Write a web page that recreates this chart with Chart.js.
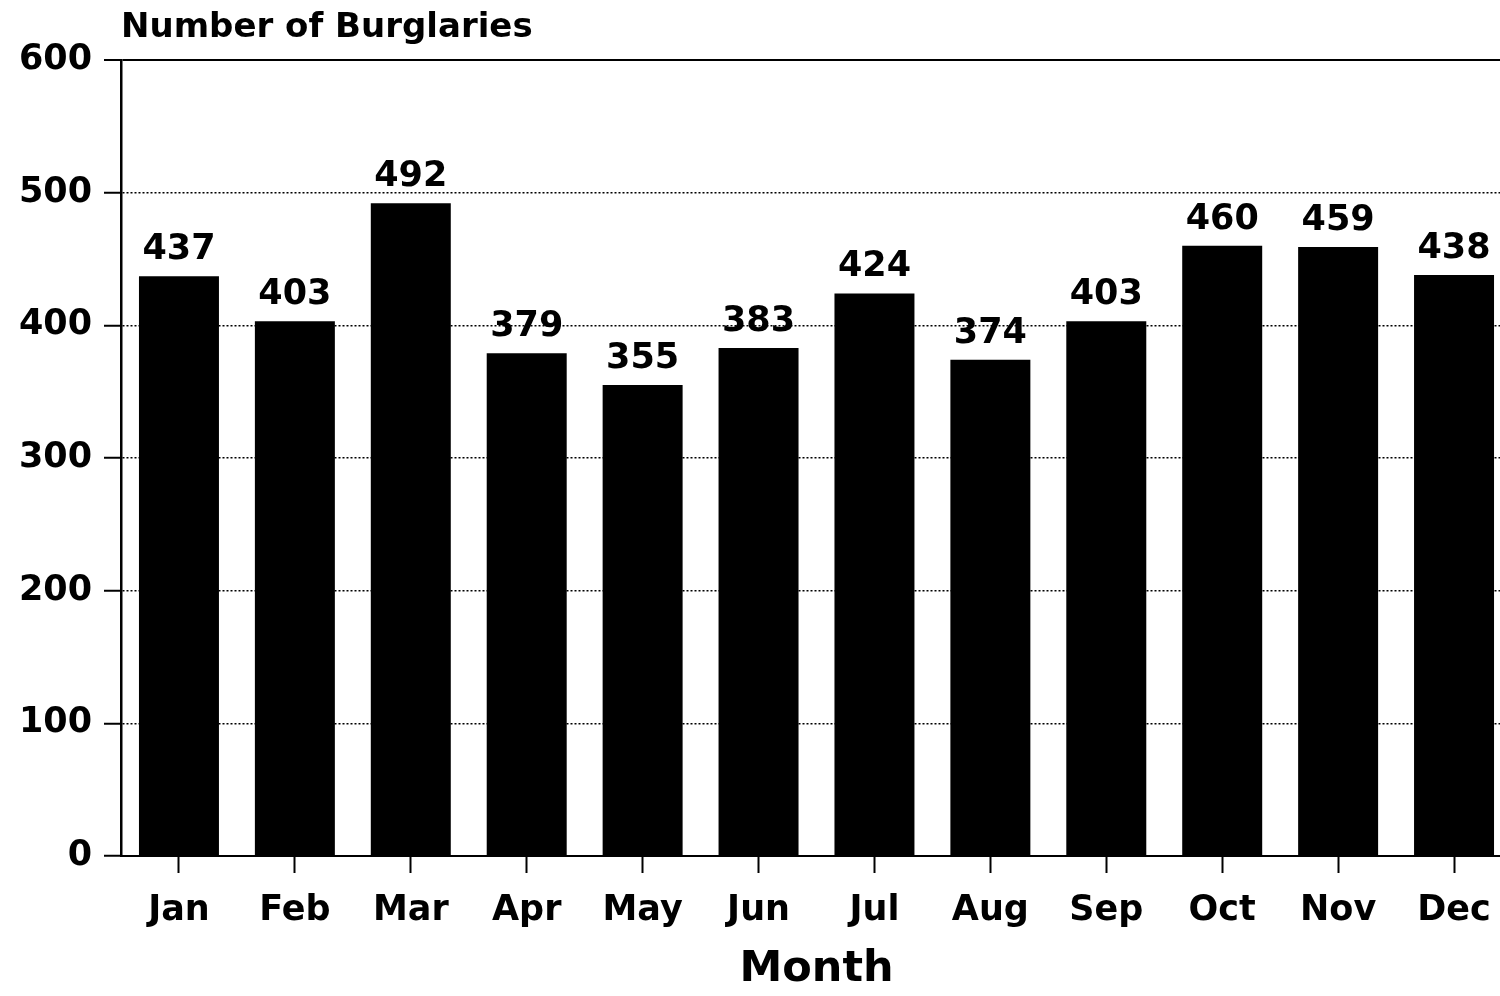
<!DOCTYPE html>
<html lang="en">
<head>
  <meta charset="UTF-8">
  <title>Number of Burglaries</title>
  <script src="https://cdn.jsdelivr.net/npm/chart.js"></script>
  <style>
    html, body {
      margin: 0;
      padding: 0;
      background: #fff;
      overflow: hidden;
    }
    .chart-container {
      position: relative;
      width: 1515px;
      height: 996px;
    }
  </style>
</head>
<body>
  <div class="chart-container">
    <canvas id="barChart"></canvas>
  </div>

  <script>
    // Data
    const months = ["Jan", "Feb", "Mar", "Apr", "May", "Jun", "Jul", "Aug", "Sep", "Oct", "Nov", "Dec"];
    const burglaries = [437, 403, 492, 379, 355, 383, 424, 374, 403, 460, 459, 438];
    const yTicks = [0, 100, 200, 300, 400, 500, 600];

    const FONT = "'DejaVu Sans', sans-serif";

    // Title above the y axis and value labels above each bar
    const labelsPlugin = {
      id: "labels",
      afterDatasetsDraw(chart) {
        const ctx = chart.ctx;
        ctx.save();
        ctx.fillStyle = "#000";
        ctx.font = "bold 35px " + FONT;
        ctx.textAlign = "center";
        ctx.textBaseline = "alphabetic";
        chart.getDatasetMeta(0).data.forEach((bar, i) => {
          ctx.fillText(String(burglaries[i]), bar.x, bar.y - 17);
        });
        ctx.textAlign = "left";
        ctx.font = "bold 34px " + FONT;
        ctx.fillText("Number of Burglaries", chart.chartArea.left, 37);
        ctx.restore();
      }
    };

    const ctx = document.getElementById("barChart").getContext("2d");

    new Chart(ctx, {
      type: "bar",
      data: {
        labels: months,
        datasets: [{
          label: "Number of Burglaries",
          data: burglaries,
          backgroundColor: "#000",
          borderWidth: 0,
          barPercentage: 0.69,
          categoryPercentage: 1.0
        }]
      },
      options: {
        responsive: true,
        maintainAspectRatio: false,
        animation: false,
        layout: {
          padding: { top: 60, right: 3, left: 0, bottom: 0 }
        },
        plugins: {
          legend: { display: false },
          tooltip: { enabled: false }
        },
        scales: {
          x: {
            grid: {
              display: true,
              drawOnChartArea: false,
              offset: false,
              color: "#000",
              tickLength: 17,
              tickWidth: 2,
              tickColor: "#000"
            },
            border: { color: "#000", width: 2 },
            ticks: {
              color: "#000",
              font: { family: FONT, size: 35, weight: "bold" },
              padding: 17,
              maxRotation: 0
            },
            title: {
              display: true,
              text: "Month",
              color: "#000",
              font: { family: FONT, size: 43, weight: "bold" },
              padding: { top: 0, bottom: 0 }
            },
            afterFit(scale) {
              scale.height = 140;
            }
          },
          y: {
            min: 0,
            max: 600,
            afterBuildTicks(scale) {
              scale.ticks = yTicks.map(v => ({ value: v }));
            },
            grid: {
              color: "#000",
              lineWidth: (c) => (c.tick && c.tick.value === 600 ? 2 : 1.5),
              tickLength: 17,
              tickWidth: 2,
              tickColor: "#000"
            },
            border: {
              color: "#000",
              width: 2.5,
              dash: (c) => (c.tick && c.tick.value !== 600 ? [2, 2] : [])
            },
            ticks: {
              color: "#000",
              font: { family: FONT, size: 35, weight: "bold" },
              padding: 12
            },
            afterFit(scale) {
              scale.width = 121;
            }
          }
        }
      },
      plugins: [labelsPlugin]
    });
  </script>
</body>
</html>
